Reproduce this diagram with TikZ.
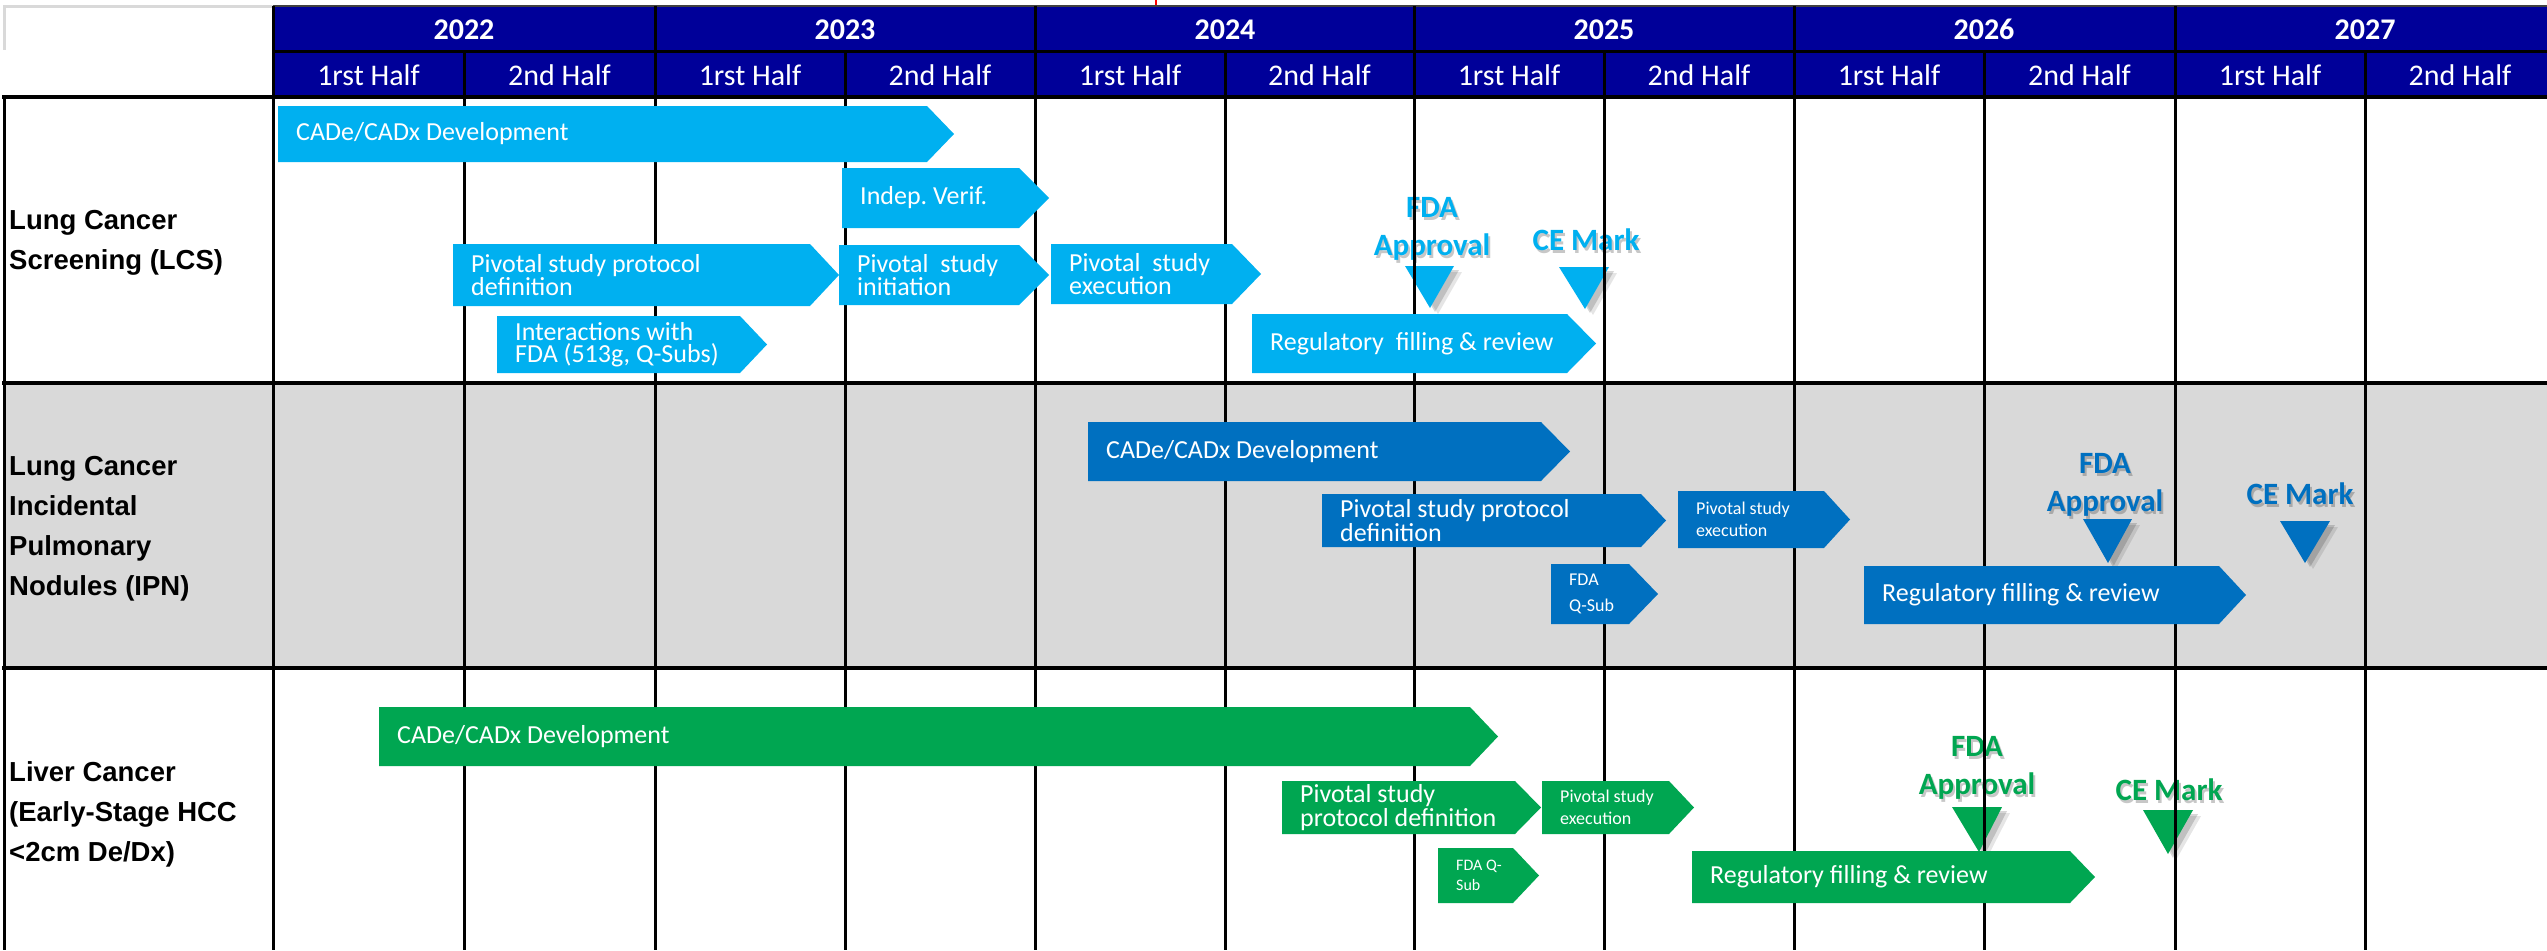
\documentclass[tikz,border=0pt]{standalone}
\usepackage{fontspec}
\setmainfont{Carlito}
\newfontfamily\arialf{Liberation Sans}
\frenchspacing
\definecolor{lcs}{HTML}{00B0F0}
\definecolor{ipn}{HTML}{0070C0}
\definecolor{liv}{HTML}{00A651}
\definecolor{hdr}{HTML}{000099}
\definecolor{rowgray}{HTML}{D9D9D9}
\tikzset{
  boxtxt/.style={text=white, anchor=west, align=left, inner sep=0pt, font=\fontsize{26}{22}\selectfont},
  smalltxt/.style={text=white, anchor=west, align=left, inner sep=0pt, font=\fontsize{18}{22}\selectfont},
  qsubtxt/.style={text=white, anchor=west, align=left, inner sep=0pt, font=\fontsize{18}{26}\selectfont},
  tinytxt/.style={text=white, anchor=west, align=left, inner sep=0pt, font=\fontsize{16}{20}\selectfont},
  yeartxt/.style={text=white, inner sep=0pt, font=\bfseries\fontsize{30}{36}\selectfont},
  halftxt/.style={text=white, inner sep=0pt, font=\fontsize{30}{36}\selectfont},
  rowlbl/.style={anchor=west, align=left, inner sep=0pt, font=\arialf\bfseries\fontsize{27.5}{40}\selectfont},
  mstxt/.style={align=center, inner sep=0pt, font=\bfseries\fontsize{31}{38}\selectfont},
  gridline/.style={line width=3pt, black},
  sepline/.style={line width=4.5pt, black},
}
% home-plate box: #1 style, #2 name, #3 colour, #4 x1, #5 y1, #6 shoulder x, #7 tip x, #8 y2, #9 text
\newcommand\hpbox[9][boxtxt]{%
  \fill[#3] (#4,#5) -- (#6,#5) -- (#7,{(#5+#8)/2}) -- (#6,#8) -- (#4,#8) -- cycle;
  \node[#1] (#2) at (#4+18,{(#5+#8)/2}) {#9};}
% milestone triangle: #1 name, #2 colour, #3 left x, #4 top y, #5 right x, #6 tip x, #7 tip y
\newcommand\mstri[7]{%
  \fill[black,opacity=0.10] (#3+8,#4+6) -- (#5+8,#4+6) -- (#6+8,#7+6) -- cycle;
  \fill[black,opacity=0.16] (#3+5,#4+4) -- (#5+5,#4+4) -- (#6+5,#7+4) -- cycle;
  \fill[#2] (#3,#4) -- (#5,#4) -- (#6,#7) -- cycle;
  \coordinate (#1) at (#6,#7);}
% milestone text: #1 name, #2 colour, #3 x, #4 y, #5 text
\newcommand\mstext[5]{%
  \node[mstxt, text=black, opacity=0.22] at (#3+2,#4+3) {#5};
  \node[mstxt, text=#2] (#1) at (#3,#4) {#5};}
\begin{document}
\begin{tikzpicture}[x=1pt,y=-1pt]
\useasboundingbox (0,0) rectangle (2547,950);
\clip (0,0) rectangle (2547,950);
\fill[white] (0,0) rectangle (2547,950);
% row backgrounds
\fill[rowgray] (4,383) rectangle (2560,668);
% header
\fill[hdr] (273,6) rectangle (2560,97);
\draw[line width=2pt, black!75] (273,6) -- (2560,6);
\draw[line width=3pt, rowgray] (4,50) -- (4,7) -- (273,7);
\draw[red, line width=1.5pt] (1156,0) -- (1156,5);
% milestones (under grid)
\mstri{fda1}{lcs}{1405}{266}{1454}{1430}{308}
\mstext{fda1t}{lcs}{1432}{229}{FDA\\Approval}
\mstri{ce1}{lcs}{1559}{267}{1609}{1585}{309}
\mstext{ce1t}{lcs}{1586}{240}{CE Mark}
\mstri{fda2}{ipn}{2083}{519}{2132}{2108}{563}
\mstext{fda2t}{ipn}{2105}{485}{FDA\\Approval}
\mstri{ce2}{ipn}{2280}{521}{2330}{2305}{563}
\mstext{ce2t}{ipn}{2300}{494}{CE Mark}
\mstri{fda3}{liv}{1952}{807}{2002}{1979}{852}
\mstext{fda3t}{liv}{1977}{768}{FDA\\Approval}
\mstri{ce3}{liv}{2143}{810}{2193}{2168}{854}
\mstext{ce3t}{liv}{2169}{790}{CE Mark}
% grid
\foreach \x in {273,655,1035,1414,1794,2175} \draw[gridline] (\x,6) -- (\x,52);
\foreach \x in {273,464,655,845,1035,1225,1414,1604,1794,1984,2175,2365} \draw[gridline] (\x,52) -- (\x,950);
\draw[gridline] (4,97) -- (4,950);
\draw[gridline] (273,52) -- (2560,52);
\draw[sepline] (2,97) -- (2560,97);
\draw[sepline] (2,383) -- (2560,383);
\draw[sepline] (2,668) -- (2560,668);
% header text
\foreach \y/\c in {2022/464,2023/845,2024/1225,2025/1604,2026/1984,2027/2365}
  \node[yeartxt] (y\y) at (\c,29.5) {\y};
\foreach \i/\c in {1/368.5,3/750,5/1130,7/1509,9/1889,11/2270}
  \node[halftxt] (h\i) at (\c,75) {1rst Half};
\foreach \i/\c in {2/559.5,4/940,6/1319.5,8/1699,10/2079.5,12/2460}
  \node[halftxt] (h\i) at (\c,75) {2nd Half};
% row labels
\node[rowlbl] (r1) at (9,243) {Lung Cancer\\Screening (LCS)};
\node[rowlbl] (r2) at (9,529) {Lung Cancer\\Incidental\\Pulmonary\\Nodules (IPN)};
\node[rowlbl] (r3) at (9,814) {Liver Cancer\\(Early-Stage HCC\\<2cm De/Dx)};
% row 1 boxes
\hpbox{dev1}{lcs}{278}{106}{927}{954}{162}{CADe/CADx Development}
\hpbox{verif1}{lcs}{842}{168}{1019}{1049}{228}{Indep. Verif.}
\hpbox{piv1}{lcs}{453}{244}{810}{839}{306}{Pivotal study protocol\\definition}
\hpbox{init1}{lcs}{839}{245}{1019}{1049}{305}{Pivotal\ \ study\\initiation}
\hpbox{inter1}{lcs}{497}{316}{740}{767}{373}{Interactions with\\FDA (513g, Q-Subs)}
\hpbox{exec1}{lcs}{1051}{244}{1232}{1261}{304}{Pivotal\ \ study\\execution}
\hpbox{reg1}{lcs}{1252}{314}{1567}{1596}{373}{Regulatory\ \ filling \& review}
% row 2 boxes
\hpbox{dev2}{ipn}{1088}{422}{1541}{1570}{481}{CADe/CADx Development}
\hpbox{piv2}{ipn}{1322}{494}{1641}{1666}{547}{Pivotal study protocol\\definition}
\hpbox[smalltxt]{exec2}{ipn}{1678}{491}{1824}{1850}{548}{Pivotal study\\execution}
\hpbox[qsubtxt]{qsub2}{ipn}{1551}{564}{1629}{1658}{624}{FDA\\Q-Sub}
\hpbox{reg2}{ipn}{1864}{566}{2219}{2246}{624}{Regulatory filling \& review}
% row 3 boxes
\hpbox{dev3}{liv}{379}{707}{1470}{1498}{766}{CADe/CADx Development}
\hpbox{piv3}{liv}{1282}{781}{1515}{1541}{834}{Pivotal study\\protocol definition}
\hpbox[smalltxt]{exec3}{liv}{1542}{781}{1669}{1694}{834}{Pivotal study\\execution}
\hpbox[tinytxt]{qsub3}{liv}{1438}{848}{1513}{1539}{903}{FDA Q-\\Sub}
\hpbox{reg3}{liv}{1692}{851}{2070}{2095}{903}{Regulatory filling \& review}
\end{tikzpicture}
\end{document}
